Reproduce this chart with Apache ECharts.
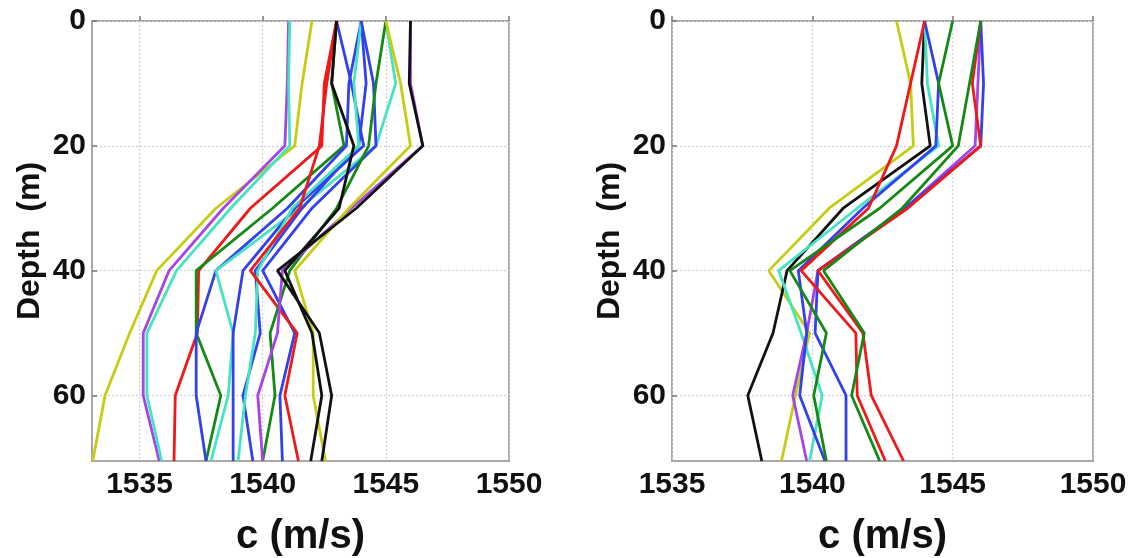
<!DOCTYPE html>
<html>
<head>
<meta charset="utf-8">
<script src="https://cdn.jsdelivr.net/npm/echarts@6/dist/echarts.min.js"></script>
<style>
html,body{margin:0;padding:0;background:#fff;}
#chart{width:1135px;height:558px;}
</style>
</head>
<body>
<div id="chart"></div>
<script>
// ---- data ----
const depths = [0, 10, 20, 30, 40, 50, 60, 70.5];
const xTicks = [1535, 1540, 1545, 1550];
const yTicks = [0, 20, 40, 60];

// left panel sound-speed profiles (m/s) at the depths above
const L_yellow1 = [1542.0, 1541.6, 1541.3, 1538.1, 1535.7, 1534.6, 1533.6, 1533.1];
const L_purple1 = [1541.05, 1541.0, 1540.9, 1538.4, 1536.2, 1535.15, 1535.15, 1535.8];
const L_cyan1   = [1541.1, 1541.05, 1541.1, 1538.7, 1536.5, 1535.3, 1535.3, 1535.9];
const L_red1    = [1543.0, 1542.5, 1542.4, 1539.5, 1537.4, 1537.35, 1536.45, 1536.4];
const L_green1  = [1543.0, 1542.8, 1543.3, 1540.4, 1537.3, 1537.3, 1538.3, 1537.7];
const L_blue1   = [1544.0, 1543.5, 1543.4, 1541.0, 1538.1, 1537.3, 1537.3, 1537.7];
const L_cyan2   = [1545.0, 1545.4, 1544.6, 1541.5, 1538.1, 1538.8, 1538.6, 1537.9];
const L_blue2   = [1543.0, 1543.6, 1544.1, 1541.3, 1539.2, 1538.8, 1538.8, 1538.8];
const L_blue3   = [1544.0, 1544.2, 1543.9, 1541.6, 1539.7, 1539.9, 1539.2, 1539.6];
const L_cyan3   = [1544.0, 1543.7, 1543.9, 1541.2, 1539.8, 1539.7, 1539.3, 1539.0];
const L_blue4   = [1544.0, 1544.5, 1544.6, 1542.0, 1540.0, 1541.3, 1540.7, 1540.8];
const L_red2    = [1543.0, 1542.6, 1542.3, 1541.5, 1539.5, 1541.4, 1540.9, 1541.45];
const L_green2  = [1545.0, 1544.6, 1544.3, 1543.0, 1541.1, 1540.3, 1540.5, 1540.0];
const L_purple2 = [1546.0, 1546.0, 1546.5, 1543.6, 1540.8, 1540.6, 1539.8, 1540.0];
const L_yellow2 = [1545.0, 1545.6, 1546.0, 1543.5, 1541.3, 1542.05, 1542.05, 1542.55];
const L_black1  = [1546.0, 1545.95, 1546.5, 1543.8, 1540.6, 1542.3, 1542.8, 1542.4];
const L_black2  = [1543.0, 1542.8, 1543.7, 1543.1, 1540.9, 1542.0, 1542.4, 1541.95];

// right panel profiles
const R_yellow  = [1543.0, 1543.5, 1543.6, 1540.6, 1538.45, 1539.9, 1539.4, 1538.9];
const R_black   = [1544.0, 1543.9, 1544.2, 1541.1, 1539.1, 1538.6, 1537.7, 1538.2];
const R_cyan    = [1544.0, 1544.1, 1544.5, 1541.6, 1538.8, 1539.6, 1540.35, 1539.9];
const R_purple  = [1546.0, 1545.9, 1545.8, 1543.3, 1540.2, 1539.8, 1539.3, 1539.8];
const R_blue1   = [1544.0, 1544.5, 1544.4, 1541.8, 1539.5, 1539.8, 1539.55, 1540.45];
const R_blue2   = [1546.0, 1546.1, 1546.0, 1543.3, 1540.2, 1540.1, 1541.2, 1541.2];
const R_red1    = [1544.0, 1543.5, 1543.0, 1542.0, 1539.6, 1541.55, 1541.6, 1542.6];
const R_red2    = [1546.0, 1545.7, 1546.0, 1543.4, 1540.2, 1541.8, 1542.1, 1543.25];
const R_green1  = [1545.0, 1544.5, 1545.0, 1542.4, 1539.2, 1540.5, 1540.05, 1540.5];
const R_green2  = [1546.0, 1545.6, 1545.2, 1543.2, 1540.4, 1541.85, 1541.4, 1542.4];

const leftProfiles = [
  ['yellow', L_yellow1], ['purple', L_purple1], ['cyan', L_cyan1], ['red', L_red1],
  ['green', L_green1], ['blue', L_blue1], ['cyan', L_cyan2], ['blue', L_blue2],
  ['blue', L_blue3], ['cyan', L_cyan3], ['blue', L_blue4], ['red', L_red2],
  ['green', L_green2], ['purple', L_purple2], ['yellow', L_yellow2],
  ['black', L_black1], ['black', L_black2]
];
const rightProfiles = [
  ['yellow', R_yellow], ['black', R_black], ['cyan', R_cyan], ['purple', R_purple],
  ['blue', R_blue1], ['blue', R_blue2], ['red', R_red1], ['red', R_red2],
  ['green', R_green1], ['green', R_green2]
];

// ---- styles ----
const palette = {
  blue: '#3340ee', green: '#148a14', red: '#f01818', cyan: '#45e3c2',
  purple: '#a544e8', yellow: '#c6cc12', black: '#111111'
};
const FONT = '"Liberation Sans", Arial, Helvetica, sans-serif';

function xAxis(gridIndex, min) {
  return {
    type: 'value', gridIndex, min, max: 1550,
    name: 'c (m/s)', nameLocation: 'middle', nameGap: 56,
    nameTextStyle: { fontFamily: FONT, fontWeight: 'bold', fontSize: 40, color: '#111' },
    axisLine: { show: false },
    axisTick: { show: true, inside: true, length: 5, customValues: xTicks, lineStyle: { color: '#777', width: 1.5 } },
    axisLabel: { customValues: xTicks, formatter: v => String(v), margin: 9, fontFamily: FONT, fontWeight: 'bold', fontSize: 30, color: '#111' },
    splitLine: { show: true, lineStyle: { color: '#cfcfcf', type: [2, 2], width: 1.2 } }
  };
}
function yAxis(gridIndex) {
  return {
    type: 'value', gridIndex, inverse: true, min: 0, max: 70.5,
    name: 'Depth  (m)', nameLocation: 'middle', nameGap: 46,
    nameTextStyle: { fontFamily: FONT, fontWeight: 'bold', fontSize: 32, color: '#111' },
    axisLine: { show: false },
    axisTick: { show: true, inside: true, length: 5, customValues: yTicks, lineStyle: { color: '#777', width: 1.5 } },
    axisLabel: { customValues: yTicks, formatter: v => String(v), margin: 6, fontFamily: FONT, fontWeight: 'bold', fontSize: 30, color: '#111' },
    splitLine: { show: true, lineStyle: { color: '#cfcfcf', type: [2, 2], width: 1.2 } }
  };
}

function makeSeries(profiles, idx) {
  return profiles.map(([col, vals]) => ({
    type: 'line', xAxisIndex: idx, yAxisIndex: idx,
    data: vals.map((v, i) => [v, depths[i]]),
    showSymbol: false, symbol: 'none', animation: false, silent: true,
    lineStyle: { color: palette[col], width: 2.8 },
    itemStyle: { color: palette[col] }
  }));
}

const chart = echarts.init(document.getElementById('chart'), null, { renderer: 'canvas' });
chart.setOption({
  backgroundColor: '#fff',
  animation: false,
  grid: [
    { left: 92, top: 21, width: 417, height: 440, outerBoundsMode: 'none', containLabel: false, show: true, borderColor: '#a8a8a8', borderWidth: 2, backgroundColor: '#fff' },
    { left: 672, top: 21, width: 421, height: 440, outerBoundsMode: 'none', containLabel: false, show: true, borderColor: '#a8a8a8', borderWidth: 2, backgroundColor: '#fff' }
  ],
  xAxis: [xAxis(0, 1533.07), xAxis(1, 1535)],
  yAxis: [yAxis(0), yAxis(1)],
  series: makeSeries(leftProfiles, 0).concat(makeSeries(rightProfiles, 1))
});
</script>
</body>
</html>
